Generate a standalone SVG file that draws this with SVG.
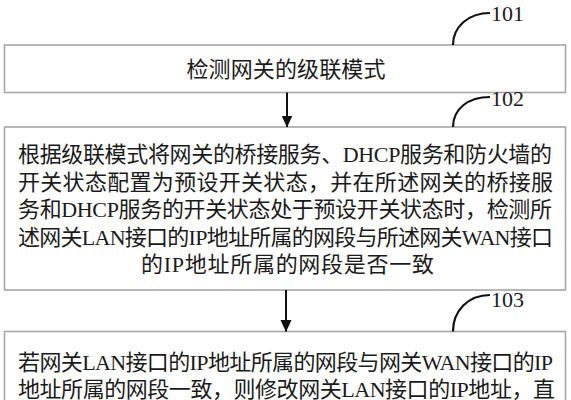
<svg xmlns="http://www.w3.org/2000/svg" width="571" height="400" viewBox="0 0 571 400">
<defs>
<style>
.box{fill:#fff;stroke:#a6a6a6;stroke-width:1.6}
.t{font-family:"Liberation Serif","Noto Sans CJK SC",serif;font-size:22px;fill:#1a1a1a}
.lbl{font-family:"Liberation Serif",serif;font-size:22px;fill:#1a1a1a}
.conn{stroke:#111;stroke-width:2;fill:none}
.lead{stroke:#111;stroke-width:2.2;fill:none}
</style>
<marker id="ah" markerWidth="12" markerHeight="13" refX="11.5" refY="6" orient="auto" markerUnits="userSpaceOnUse">
<path d="M0,0.5 L12,6 L0,11.5 Z" fill="#111"/>
</marker>
</defs>
<rect width="571" height="400" fill="#fff"/>
<g id="node101">
<rect class="box" x="4.5" y="45" width="561" height="47.5"/>
<text class="t" x="286" y="76.5" text-anchor="middle" textLength="199" lengthAdjust="spacing">检测网关的级联模式</text>
<path class="lead" d="M453,45 C453,27 468,13 490,13"/>
<text class="lbl" x="491" y="21">101</text>
</g>
<g id="node102">
<rect class="box" x="4.5" y="127" width="561" height="163"/>
<text class="t" x="18" y="162" textLength="534" lengthAdjust="spacing">根据级联模式将网关的桥接服务、DHCP服务和防火墙的</text>
<text class="t" x="18" y="189.5" textLength="535" lengthAdjust="spacing">开关状态配置为预设开关状态，并在所述网关的桥接服</text>
<text class="t" x="18" y="217" textLength="534" lengthAdjust="spacing">务和DHCP服务的开关状态处于预设开关状态时，检测所</text>
<text class="t" x="18" y="244.5" textLength="535" lengthAdjust="spacing">述网关LAN接口的IP地址所属的网段与所述网关WAN接口</text>
<text class="t" x="287.5" y="272" text-anchor="middle" textLength="293" lengthAdjust="spacing">的IP地址所属的网段是否一致</text>
<path class="lead" d="M453,127 C453,109 468,97 490,97"/>
<text class="lbl" x="491" y="106">102</text>
</g>
<g id="node103">
<rect class="box" x="4.5" y="331.5" width="561" height="80"/>
<text class="t" x="18" y="369.5" textLength="535" lengthAdjust="spacing">若网关LAN接口的IP地址所属的网段与网关WAN接口的IP</text>
<text class="t" x="18" y="396.5" textLength="537" lengthAdjust="spacing">地址所属的网段一致，则修改网关LAN接口的IP地址，直</text>
<path class="lead" d="M453,331.5 C453,311 468,295 490,295"/>
<text class="lbl" x="491" y="307">103</text>
</g>
<g id="connectors">
<line class="conn" x1="287" y1="92.5" x2="287" y2="127" marker-end="url(#ah)"/>
<line class="conn" x1="286" y1="290" x2="286" y2="331.5" marker-end="url(#ah)"/>
</g>
</svg>
